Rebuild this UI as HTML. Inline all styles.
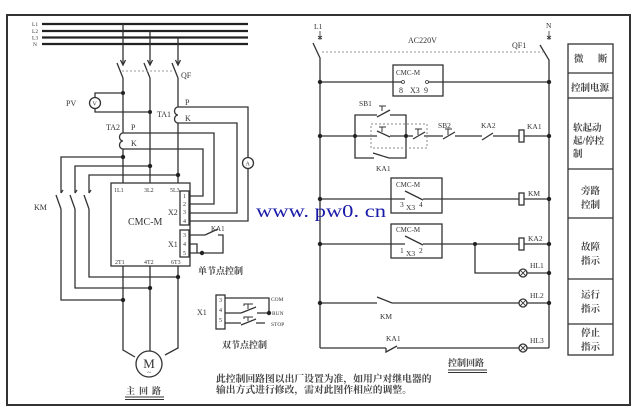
<!DOCTYPE html>
<html><head><meta charset="utf-8"><style>
html,body{margin:0;padding:0;background:#fff;}
svg{display:block;}
text{font-family:"Liberation Serif","Noto Serif CJK SC",serif;fill:#333;}
.cn{font-family:"Liberation Serif","Noto Serif CJK SC",serif;font-weight:bold;fill:#444;}
</style></head><body>
<svg width="640" height="420" viewBox="0 0 640 420" xmlns="http://www.w3.org/2000/svg">
<rect x="0" y="0" width="640" height="420" fill="#fff"/>
<rect x="7" y="15" width="623" height="390" fill="none" stroke="#333" stroke-width="2"/>

<!-- ===== MAIN CIRCUIT ===== -->
<g stroke="#222" stroke-width="2.2">
<line x1="42" y1="24" x2="248" y2="24"/>
<line x1="42" y1="31" x2="248" y2="31"/>
<line x1="42" y1="37.5" x2="248" y2="37.5"/>
<line x1="42" y1="44" x2="248" y2="44"/>
</g>
<g font-size="5.5"><text x="32" y="26">L1</text><text x="32" y="33">L2</text><text x="32" y="39.5">L3</text><text x="33" y="46">N</text></g>

<g stroke="#333" stroke-width="1.3" fill="none">
<path d="M123,24V64M150,31V64M178,37.5V64"/>
<path d="M120.5,60L123,65L125.5,60M147.5,60L150,65L152.5,60M175.5,60L178,65L180.5,60"/>
<path d="M117,63L123,78M144,63L150,78M172,63L178,78"/>
<path d="M123,78V133M123,149V183M150,78V183M178,78V107M178,123V183"/>
<path d="M123,133a3.5,4 0 0 0 0,8a3.5,4 0 0 0 0,8"/>
<path d="M178,107a3.5,4 0 0 0 0,8a3.5,4 0 0 0 0,8"/>
<circle cx="95" cy="103" r="5.5"/>
<path d="M95,97.5V93H123M95,108.5V112H150"/>
<path d="M178,107H248V157.5M248,168.5V221H189"/>
<path d="M178,123H237V213H189"/>
<path d="M123,133H214V204H189"/>
<path d="M123,149H203V196H189"/>
<circle cx="248" cy="163" r="5.5"/>
<path d="M123,157H61V193M150,166H75V193M178,175H89V193"/>
<path d="M56,195L61,209M70,195L75,209M84,195L89,209"/>
<path d="M61,193l2,-3M75,193l2,-3M89,193l2,-3"/>
<path d="M61,209V300H123M75,209V288H150M89,209V277H178"/>
<rect x="111" y="183" width="79" height="83"/>
<rect x="180" y="191" width="9" height="34"/>
<rect x="180" y="230" width="9" height="27"/>
<path d="M189,235H205M205,235L218,229M218,235H223V253H202M189,244H197V253M189,253H202"/>
<path d="M123,266V350L135,357M150,266V351M178,266V348L165,355"/>
<circle cx="149" cy="364" r="13"/>
<path d="M125,397H164M125,399.5H164" stroke-width="1"/>
<rect x="216" y="295" width="9" height="34"/>
<path d="M225,298H269V313M225,313H241M241,313L256,307M257,313H269M225,323H241M241,325L256,319M256,323H265"/>
<path d="M248,309V304H244V306M248,304H253M248,321V317H244V319M248,317H253" stroke-width="1"/>
</g>
<g fill="#222">
<circle cx="123" cy="93" r="2"/><circle cx="150" cy="112" r="2"/>
<circle cx="123" cy="157" r="2.2"/><circle cx="150" cy="166" r="2.2"/><circle cx="178" cy="175" r="2.2"/>
<circle cx="123" cy="300" r="2.2"/><circle cx="150" cy="288" r="2.2"/><circle cx="178" cy="277" r="2.2"/>
<circle cx="202" cy="253" r="2.2"/><circle cx="269" cy="313" r="2.2"/>
</g>
<line x1="122" y1="71" x2="174" y2="71" stroke="#999" stroke-width="1" stroke-dasharray="2,2"/>

<g font-size="8">
<text x="181" y="78">QF</text>
<text x="66" y="106">PV</text>
<text x="92.5" y="105.5" font-size="6">V</text>
<text x="245.5" y="165.5" font-size="6">A</text>
<text x="157" y="117">TA1</text>
<text x="185" y="105">P</text>
<text x="185" y="121">K</text>
<text x="106" y="130">TA2</text>
<text x="131" y="130">P</text>
<text x="131" y="146">K</text>
<text x="34" y="210">KM</text>
<text x="114" y="192" font-size="6">1L1</text>
<text x="144" y="192" font-size="6">3L2</text>
<text x="170" y="192" font-size="6">5L3</text>
<text x="128" y="225" font-size="10">CMC-M</text>
<text x="115" y="264" font-size="6">2T1</text>
<text x="144" y="264" font-size="6">4T2</text>
<text x="171" y="264" font-size="6">6T3</text>
<text x="168" y="215">X2</text>
<text x="168" y="247">X1</text>
<g font-size="6"><text x="183" y="198">1</text><text x="183" y="206">2</text><text x="183" y="214">3</text><text x="183" y="223">4</text>
<text x="183" y="237">3</text><text x="183" y="246">4</text><text x="183" y="255">5</text>
<text x="219" y="302">3</text><text x="219" y="312">4</text><text x="219" y="322">5</text></g>
<text x="211" y="231" font-size="7">KA1</text>
<text x="149" y="368" font-size="13" text-anchor="middle">M</text>
<text x="149" y="375" font-size="7" text-anchor="middle">~</text>
<text x="197" y="315">X1</text>
<g font-size="5.5"><text x="271" y="301">COM</text><text x="272" y="315">RUN</text><text x="271" y="326">STOP</text></g>
</g>
<text class="cn" x="198" y="274" font-size="9">单节点控制</text>
<text class="cn" x="126" y="394" font-size="9" letter-spacing="4">主回路</text>
<text class="cn" x="222" y="348" font-size="9">双节点控制</text>
<text class="cn" x="216" y="382" font-size="9.8">此控制回路图以出厂设置为准，如用户对继电器的</text>
<text class="cn" x="216" y="393" font-size="9.8">输出方式进行修改，需对此图作相应的调整。</text>

<!-- ===== CONTROL CIRCUIT ===== -->
<g stroke="#333" stroke-width="1.3" fill="none">
<path d="M320,31V40M318,36l4,3M322,36l-4,3" stroke-width="0.8"/>
<path d="M549,31V40M547,36l4,3M551,36l-4,3" stroke-width="0.8"/>
<path d="M313,43L320,58V348M540,45L549,60V348"/>
<path d="M320,82H401.5M428.5,82H549"/>
<circle cx="403" cy="82" r="1.5" stroke-width="0.8"/><circle cx="427" cy="82" r="1.5" stroke-width="0.8"/>
<rect x="393" y="65" width="50" height="31"/>
<path d="M320,136H377M390,136H413M424,136H443M455,136H482M493,136H519M524,136H549"/>
<path d="M355,136V115H377M390,115H406V158H389M374,158H355V136"/>
<path d="M377,117L390,110M377,131L390,137M373,153L389,158M413,139L425,132M443,139L455,132M482,140L493,133"/>
<path d="M382,111V106H379M382,106H386M382,132V127H379M382,127H386M418,135V129H415M418,129H422M448,135V129H445M448,129H452" stroke-width="1"/>
<rect x="519" y="130" width="5" height="12"/>
<path d="M320,199H405M405,191L423,200M423,199H519M524,199H549"/>
<rect x="391" y="178" width="51" height="35"/>
<rect x="519" y="193" width="5" height="12"/>
<path d="M320,244H405M405,236L423,245M423,244H519M524,244H549"/>
<rect x="391" y="224" width="51" height="34"/>
<rect x="519" y="238" width="5" height="12"/>
<path d="M475,244V273H519M527,273H549"/>
<circle cx="523" cy="273" r="4"/>
<path d="M520.2,270.2l5.6,5.6M525.8,270.2l-5.6,5.6" stroke-width="0.9"/>
<path d="M320,303H377M377,297L392,303M392,303H519M527,303H549"/>
<circle cx="523" cy="303" r="4"/>
<path d="M520.2,300.2l5.6,5.6M525.8,300.2l-5.6,5.6" stroke-width="0.9"/>
<path d="M320,348H386M386,348V352L397,346M397,348H519M527,348H549"/>
<circle cx="523" cy="348" r="4"/>
<path d="M520.2,345.2l5.6,5.6M525.8,345.2l-5.6,5.6" stroke-width="0.9"/>
<path d="M448,370H487M448,372.5H487" stroke-width="1"/>
<rect x="568" y="44" width="45" height="311"/>
<path d="M568,73H613M568,98H613M568,169H613M568,218H613M568,279H613M568,324H613"/>
</g>
<line x1="322" y1="52" x2="545" y2="52" stroke="#999" stroke-width="1" stroke-dasharray="2,2"/>
<rect x="371" y="124" width="56" height="24" fill="none" stroke="#888" stroke-width="1" stroke-dasharray="2,2"/>
<g fill="#222">
<circle cx="320" cy="82" r="2.2"/><circle cx="549" cy="82" r="2.2"/>
<circle cx="320" cy="136" r="2.2"/><circle cx="549" cy="136" r="2.2"/><circle cx="355" cy="136" r="2"/><circle cx="406" cy="136" r="2"/>
<circle cx="320" cy="199" r="2.2"/><circle cx="549" cy="199" r="2.2"/>
<circle cx="320" cy="244" r="2.2"/><circle cx="549" cy="244" r="2.2"/><circle cx="475" cy="244" r="2"/>
<circle cx="549" cy="273" r="2.2"/>
<circle cx="320" cy="303" r="2.2"/><circle cx="549" cy="303" r="2.2"/>
</g>
<g font-size="7.5">
<text x="314" y="29">L1</text>
<text x="546" y="28">N</text>
<text x="408" y="43" font-size="8">AC220V</text>
<text x="512" y="48" font-size="8">QF1</text>
<text x="396" y="75" font-size="7">CMC-M</text>
<text x="399" y="93" font-size="8">8</text><text x="410" y="93" font-size="8">X3</text><text x="424" y="93" font-size="8">9</text>
<text x="359" y="106">SB1</text>
<text x="376" y="171">KA1</text>
<text x="438" y="128">SB2</text>
<text x="481" y="128">KA2</text>
<text x="527" y="129">KA1</text>
<text x="396" y="187" font-size="7">CMC-M</text>
<text x="400" y="207">3</text><text x="406" y="210">X3</text><text x="419" y="207">4</text>
<text x="528" y="196">KM</text>
<text x="396" y="232" font-size="7">CMC-M</text>
<text x="400" y="253">1</text><text x="406" y="256">X3</text><text x="419" y="253">2</text>
<text x="528" y="241">KA2</text>
<text x="530" y="268">HL1</text>
<text x="380" y="319">KM</text>
<text x="530" y="298">HL2</text>
<text x="386" y="341">KA1</text>
<text x="530" y="343">HL3</text>
</g>
<text class="cn" x="448" y="366" font-size="9">控制回路</text>
<g class="cn" font-size="9.5">
<text class="cn" x="574" y="62">微</text><text class="cn" x="598" y="62">断</text>
<text class="cn" x="571" y="91" font-size="9.5">控制电源</text>
<text class="cn" x="573" y="131">软起动</text>
<text class="cn" x="573" y="144">起/停控</text>
<text class="cn" x="573" y="157">制</text>
<text class="cn" x="581" y="194">旁路</text>
<text class="cn" x="581" y="208">控制</text>
<text class="cn" x="581" y="250">故障</text>
<text class="cn" x="581" y="264">指示</text>
<text class="cn" x="581" y="298">运行</text>
<text class="cn" x="581" y="312">指示</text>
<text class="cn" x="581" y="336">停止</text>
<text class="cn" x="581" y="350">指示</text>
</g>

<text x="256" y="217" font-family="Liberation Mono, monospace" font-size="18" fill="#1a1aa8" style="fill:#1a1aa8" textLength="130" lengthAdjust="spacingAndGlyphs">www. pw0. cn</text>
</svg>
</body></html>
